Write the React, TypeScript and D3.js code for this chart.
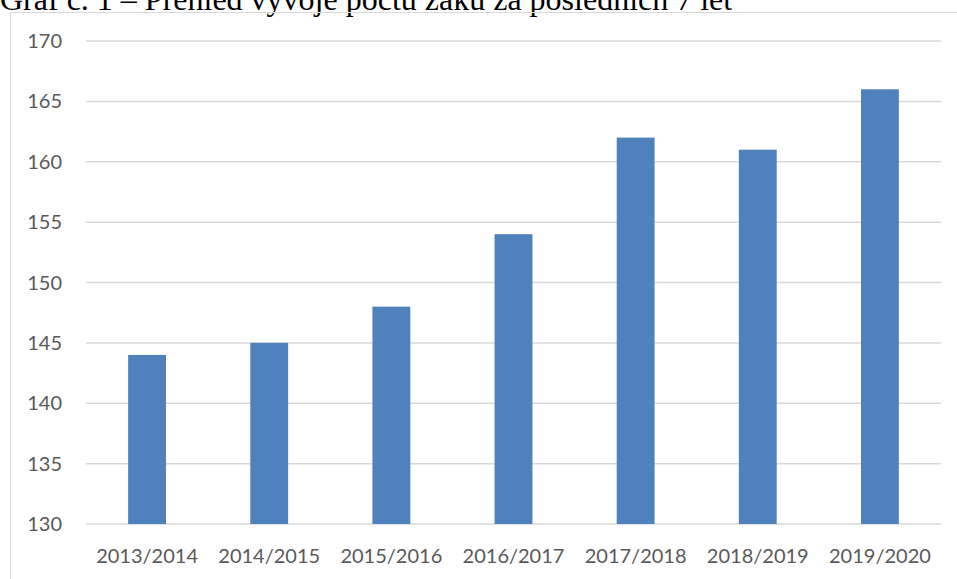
import React from 'react';
import * as d3 from 'd3';

const categories = ['2013/2014', '2014/2015', '2015/2016', '2016/2017', '2017/2018', '2018/2019', '2019/2020'];
const values = [144, 145, 148, 154, 162, 161, 166];
const yTicks = [130, 135, 140, 145, 150, 155, 160, 165, 170];
const title = 'Graf č. 1 – Přehled vývoje počtu žáků za posledních 7 let';

const W = 957;
const H = 579;
const margin = { top: 41, right: 16, bottom: 55, left: 86 };

const App = () => {
    const x = d3.scaleBand()
        .domain(categories)
        .range([margin.left, W - margin.right])
        .paddingInner(0.69)
        .paddingOuter(0.345);

    const y = d3.scaleLinear()
        .domain([130, 170])
        .range([H - margin.bottom, margin.top]);

    const font = "Lato, 'Open Sans', sans-serif";

    return (
        <svg width={W} height={H} style={{ position: 'absolute', left: 0, top: 0, background: '#fff' }}>
            <text x={0} y={10} fontFamily="'Liberation Serif', 'Times New Roman', serif" fontSize={32} fill="#000">
                {title}
            </text>
            <rect x={10.5} y={12.5} width={W} height={H} fill="none" stroke="#d9d9d9" strokeWidth={1} />
            {yTicks.map(t => (
                <g key={t}>
                    <line x1={margin.left} x2={W - margin.right} y1={y(t)} y2={y(t)} stroke="#d9d9d9" strokeWidth={1.5} />
                    <text x={62} y={y(t)} dy="0.35em" textAnchor="end" fontFamily={font} fontSize={20} fill="#595959">
                        {t}
                    </text>
                </g>
            ))}
            {categories.map((c, i) => (
                <rect key={c} x={x(c)} y={y(values[i])} width={x.bandwidth()} height={y(130) - y(values[i])} fill="#4f81bd" />
            ))}
            {categories.map(c => (
                <text key={c} x={(x(c) ?? 0) + x.bandwidth() / 2} y={H - margin.bottom + 32} dy="0.35em" textAnchor="middle" fontFamily={font} fontSize={20} fill="#595959">
                    {c}
                </text>
            ))}
        </svg>
    );
};

export default App;
